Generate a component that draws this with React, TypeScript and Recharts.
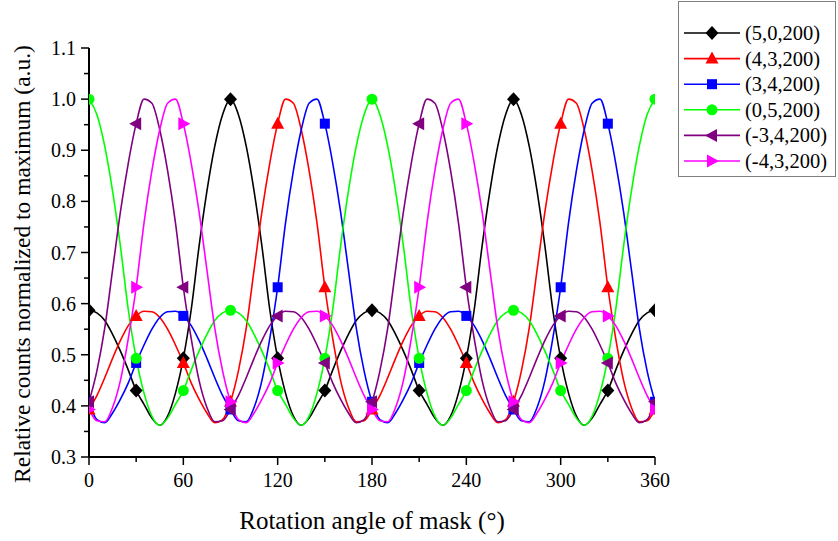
import { Label, Line, LineChart, XAxis, YAxis } from 'recharts';

// rotation angle of the mask, degrees
const angles = [
  0, 5, 10, 15, 20, 25, 30, 35, 40, 45, 50, 55, 60, 65, 70, 75, 80, 85, 90, 95, 100, 105, 110, 115, 120,
  125, 130, 135, 140, 145, 150, 155, 160, 165, 170, 175, 180, 185, 190, 195, 200, 205, 210, 215, 220,
  225, 230, 235, 240, 245, 250, 255, 260, 265, 270, 275, 280, 285, 290, 295, 300, 305, 310, 315, 320,
  325, 330, 335, 340, 345, 350, 355, 360,
];

// relative counts, one list per source position
const counts500 = [
  0.587, 0.582, 0.567, 0.54, 0.507, 0.47, 0.43, 0.403, 0.376, 0.362, 0.38, 0.425, 0.493, 0.588, 0.712,
  0.82, 0.908, 0.97, 1.0, 0.97, 0.908, 0.82, 0.712, 0.588, 0.493, 0.425, 0.38, 0.362, 0.376, 0.403,
  0.43, 0.47, 0.507, 0.54, 0.567, 0.582, 0.587, 0.582, 0.567, 0.54, 0.507, 0.47, 0.43, 0.403, 0.376,
  0.362, 0.38, 0.425, 0.493, 0.588, 0.712, 0.82, 0.908, 0.97, 1.0, 0.97, 0.908, 0.82, 0.712, 0.588,
  0.493, 0.425, 0.38, 0.362, 0.376, 0.403, 0.43, 0.47, 0.507, 0.54, 0.567, 0.582, 0.587,
];
const counts430 = [
  0.393, 0.42, 0.455, 0.493, 0.528, 0.557, 0.576, 0.585, 0.584, 0.573, 0.55, 0.519, 0.484, 0.445,
  0.413, 0.386, 0.367, 0.373, 0.408, 0.468, 0.552, 0.666, 0.78, 0.875, 0.952, 1.0, 0.992, 0.94, 0.86,
  0.758, 0.632, 0.532, 0.45, 0.397, 0.369, 0.371, 0.393, 0.42, 0.455, 0.493, 0.528, 0.557, 0.576,
  0.585, 0.584, 0.573, 0.55, 0.519, 0.484, 0.445, 0.413, 0.386, 0.367, 0.373, 0.408, 0.468, 0.552,
  0.666, 0.78, 0.875, 0.952, 1.0, 0.992, 0.94, 0.86, 0.758, 0.632, 0.532, 0.45, 0.397, 0.369, 0.371,
  0.393,
];
const counts340 = [
  0.408, 0.373, 0.367, 0.386, 0.413, 0.445, 0.484, 0.519, 0.55, 0.573, 0.584, 0.585, 0.576, 0.557,
  0.528, 0.493, 0.455, 0.42, 0.393, 0.371, 0.369, 0.397, 0.45, 0.532, 0.632, 0.758, 0.86, 0.94, 0.992,
  1.0, 0.952, 0.875, 0.78, 0.666, 0.552, 0.468, 0.408, 0.373, 0.367, 0.386, 0.413, 0.445, 0.484,
  0.519, 0.55, 0.573, 0.584, 0.585, 0.576, 0.557, 0.528, 0.493, 0.455, 0.42, 0.393, 0.371, 0.369,
  0.397, 0.45, 0.532, 0.632, 0.758, 0.86, 0.94, 0.992, 1.0, 0.952, 0.875, 0.78, 0.666, 0.552, 0.468,
  0.408,
];
const counts050 = [
  1.0, 0.97, 0.908, 0.82, 0.712, 0.588, 0.493, 0.425, 0.38, 0.362, 0.376, 0.403, 0.43, 0.47, 0.507,
  0.54, 0.567, 0.582, 0.587, 0.582, 0.567, 0.54, 0.507, 0.47, 0.43, 0.403, 0.376, 0.362, 0.38, 0.425,
  0.493, 0.588, 0.712, 0.82, 0.908, 0.97, 1.0, 0.97, 0.908, 0.82, 0.712, 0.588, 0.493, 0.425, 0.38,
  0.362, 0.376, 0.403, 0.43, 0.47, 0.507, 0.54, 0.567, 0.582, 0.587, 0.582, 0.567, 0.54, 0.507, 0.47,
  0.43, 0.403, 0.376, 0.362, 0.38, 0.425, 0.493, 0.588, 0.712, 0.82, 0.908, 0.97, 1.0,
];
const countsM340 = [
  0.408, 0.468, 0.552, 0.666, 0.78, 0.875, 0.952, 1.0, 0.992, 0.94, 0.86, 0.758, 0.632, 0.532, 0.45,
  0.397, 0.369, 0.371, 0.393, 0.42, 0.455, 0.493, 0.528, 0.557, 0.576, 0.585, 0.584, 0.573, 0.55,
  0.519, 0.484, 0.445, 0.413, 0.386, 0.367, 0.373, 0.408, 0.468, 0.552, 0.666, 0.78, 0.875, 0.952,
  1.0, 0.992, 0.94, 0.86, 0.758, 0.632, 0.532, 0.45, 0.397, 0.369, 0.371, 0.393, 0.42, 0.455, 0.493,
  0.528, 0.557, 0.576, 0.585, 0.584, 0.573, 0.55, 0.519, 0.484, 0.445, 0.413, 0.386, 0.367, 0.373,
  0.408,
];
const countsM430 = [
  0.393, 0.371, 0.369, 0.397, 0.45, 0.532, 0.632, 0.758, 0.86, 0.94, 0.992, 1.0, 0.952, 0.875, 0.78,
  0.666, 0.552, 0.468, 0.408, 0.373, 0.367, 0.386, 0.413, 0.445, 0.484, 0.519, 0.55, 0.573, 0.584,
  0.585, 0.576, 0.557, 0.528, 0.493, 0.455, 0.42, 0.393, 0.371, 0.369, 0.397, 0.45, 0.532, 0.632,
  0.758, 0.86, 0.94, 0.992, 1.0, 0.952, 0.875, 0.78, 0.666, 0.552, 0.468, 0.408, 0.373, 0.367, 0.386,
  0.413, 0.445, 0.484, 0.519, 0.55, 0.573, 0.584, 0.585, 0.576, 0.557, 0.528, 0.493, 0.455, 0.42,
  0.393,
];

const xTicks = [0, 30, 60, 90, 120, 150, 180, 210, 240, 270, 300, 330, 360];
const yTicks = [
  0.3, 0.35, 0.4, 0.45, 0.5, 0.55, 0.6, 0.65, 0.7, 0.75, 0.8, 0.85, 0.9, 0.95, 1.0, 1.05, 1.1,
];

type Shape = 'diamond' | 'triangleUp' | 'square' | 'circle' | 'triangleLeft' | 'triangleRight';

const series: { key: string; name: string; color: string; shape: Shape; values: number[] }[] = [
  { key: 'p500', name: '(5,0,200)', color: '#000000', shape: 'diamond', values: counts500 },
  { key: 'p430', name: '(4,3,200)', color: '#ff0000', shape: 'triangleUp', values: counts430 },
  { key: 'p340', name: '(3,4,200)', color: '#0000ff', shape: 'square', values: counts340 },
  { key: 'p050', name: '(0,5,200)', color: '#00ff00', shape: 'circle', values: counts050 },
  { key: 'm340', name: '(-3,4,200)', color: '#800080', shape: 'triangleLeft', values: countsM340 },
  { key: 'm430', name: '(-4,3,200)', color: '#ff00ff', shape: 'triangleRight', values: countsM430 },
];

const data = angles.map((angle, i) => {
  const row: Record<string, number> = { angle };
  series.forEach((s) => {
    row[s.key] = s.values[i];
  });
  return row;
});

const FONT = '"Liberation Serif", "Times New Roman", serif';

function Marker({ shape, cx, cy, color }: { shape: Shape; cx: number; cy: number; color: string }) {
  switch (shape) {
    case 'diamond':
      return <polygon points={`${cx},${cy - 7} ${cx + 6.5},${cy} ${cx},${cy + 7} ${cx - 6.5},${cy}`} fill={color} />;
    case 'triangleUp':
      return <polygon points={`${cx},${cy - 7} ${cx + 6.5},${cy + 5} ${cx - 6.5},${cy + 5}`} fill={color} />;
    case 'square':
      return <rect x={cx - 5} y={cy - 5} width={10} height={10} fill={color} />;
    case 'circle':
      return <circle cx={cx} cy={cy} r={5.5} fill={color} />;
    case 'triangleLeft':
      return <polygon points={`${cx - 7},${cy} ${cx + 5},${cy - 6.5} ${cx + 5},${cy + 6.5}`} fill={color} />;
    default:
      return <polygon points={`${cx + 7},${cy} ${cx - 5},${cy - 6.5} ${cx - 5},${cy + 6.5}`} fill={color} />;
  }
}

// markers only every 30 degrees, the curve itself is sampled finer
const dotFor = (shape: Shape, color: string) => (props: any) => {
  const { cx, cy, payload, key } = props;
  if (payload.angle % 30 !== 0) return <g key={key} />;
  return (
    <g key={key} clipPath="url(#plot-area-clip)">
      <Marker shape={shape} cx={cx} cy={cy} color={color} />
    </g>
  );
};

const XTick = (props: any) => {
  const { x, y, payload } = props;
  const major = payload.value % 60 === 0;
  return (
    <g>
      <line x1={x} y1={y} x2={x} y2={y + (major ? 8 : 5)} stroke="#000" strokeWidth={1.5} />
      {major && (
        <text x={x} y={y + 30} textAnchor="middle" fontSize={20} fontFamily={FONT} fill="#000">
          {payload.value}
        </text>
      )}
    </g>
  );
};

const YTick = (props: any) => {
  const { x, y, payload } = props;
  const major = Math.round(payload.value * 100) % 10 === 0;
  return (
    <g>
      <line x1={x - (major ? 8 : 5)} y1={y} x2={x} y2={y} stroke="#000" strokeWidth={1.5} />
      {major && (
        <text x={x - 13} y={y + 7} textAnchor="end" fontSize={20} fontFamily={FONT} fill="#000">
          {payload.value.toFixed(1)}
        </text>
      )}
    </g>
  );
};

function LegendBox() {
  return (
    <svg
      width={838}
      height={541}
      style={{ position: 'absolute', left: 0, top: 0, pointerEvents: 'none' }}
    >
      <defs>
        <clipPath id="plot-area-clip">
          <rect x={89} y={48} width={566} height={409} />
        </clipPath>
      </defs>
      <rect x={678.5} y={1.5} width={157} height={175} fill="#fff" stroke="#808080" strokeWidth={1} />
      {series.map((s, i) => {
        const cy = 33 + i * 25.6;
        return (
          <g key={s.key}>
            <line x1={684} y1={cy} x2={740} y2={cy} stroke={s.color} strokeWidth={1.6} />
            <Marker shape={s.shape} cx={712} cy={cy} color={s.color} />
            <text x={745} y={cy + 7} fontSize={20.5} fontFamily={FONT} fill="#000">
              {s.name}
            </text>
          </g>
        );
      })}
    </svg>
  );
}

export default function App() {
  return (
    <div style={{ position: 'absolute', left: 0, top: 0, width: 838, height: 541, background: '#fff' }}>
      <LineChart width={838} height={541} data={data} margin={{ top: 48, right: 183, bottom: 0, left: 0 }}>
        <XAxis
          dataKey="angle"
          type="number"
          domain={[0, 360]}
          ticks={xTicks}
          interval={0}
          allowDataOverflow
          height={84}
          tickSize={0}
          tickMargin={0}
          tickLine={false}
          tick={<XTick />}
          axisLine={{ stroke: '#000', strokeWidth: 2 }}
        >
          <Label
            content={(p: any) => (
              <text
                x={p.viewBox.x + p.viewBox.width / 2}
                y={p.viewBox.y + 72}
                textAnchor="middle"
                fontSize={25}
                fontFamily={FONT}
                fill="#000"
              >
                Rotation angle of mask (°)
              </text>
            )}
          />
        </XAxis>
        <YAxis
          type="number"
          domain={[0.3, 1.1]}
          ticks={yTicks}
          interval={0}
          width={89}
          tickSize={0}
          tickMargin={0}
          tickLine={false}
          tick={<YTick />}
          axisLine={{ stroke: '#000', strokeWidth: 2 }}
        >
          <Label
            content={() => (
              <text
                transform="rotate(-90)"
                x={-264}
                y={30}
                textAnchor="middle"
                fontSize={23.5}
                fontFamily={FONT}
                fill="#000"
              >
                Relative counts normalized to maximum (a.u.)
              </text>
            )}
          />
        </YAxis>
        {series.map((s) => (
          <Line
            key={s.key}
            type="monotone"
            dataKey={s.key}
            name={s.name}
            stroke={s.color}
            strokeWidth={1.6}
            dot={dotFor(s.shape, s.color)}
            activeDot={false}
            isAnimationActive={false}
          />
        ))}
      </LineChart>
      <LegendBox />
    </div>
  );
}
